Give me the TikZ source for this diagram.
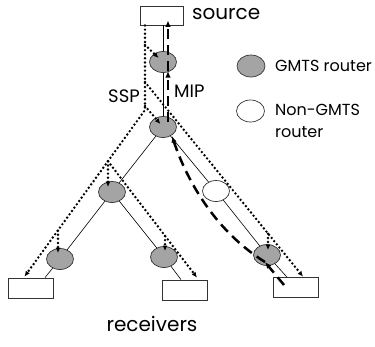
\documentclass[tikz,border=0pt]{standalone}
\usepackage{fontspec}
\setmainfont{Poppins}
\usepackage{tikz}
\usetikzlibrary{arrows.meta,calc,positioning,shapes.geometric}
\definecolor{gmtsfill}{HTML}{A4A4A4}
\definecolor{gmtsline}{HTML}{333333}
\tikzset{%
  gmbox/.style={%
    draw=gmtsline,
    fill=white,
    line width=0.8pt,
    minimum width=45pt,
    minimum height=20pt,
    inner sep=0pt
  },
  gmrouter/.style={%
    ellipse,
    draw=gmtsline,
    fill=gmtsfill,
    line width=0.7pt,
    minimum width=27pt,
    minimum height=21pt,
    inner sep=0pt
  },
  gmplain/.style={gmrouter,fill=white},
  gmlabel/.style={inner sep=0pt,font=\fontsize{#1}{22}\selectfont},
  gmlabel/.default=17,
  gmlink/.style={draw=black,line width=0.6pt},
  gmssp/.style={-{Latex[length=5.5pt,width=5pt]},line width=2.7pt,dash pattern=on 0pt off 4.1pt,line cap=round},
  gmmip/.style={-{Latex[length=6.5pt,width=5.5pt]},line width=2.5pt,dash pattern=on 10pt off 6pt}
}
\begin{document}
\begin{tikzpicture}[x=1pt,y=-1pt]
    \useasboundingbox (0,0) rectangle (375,346);
    \node[gmbox,minimum width=43pt,minimum height=19pt] (source) at (161.5,15.5) {};
    \node[gmrouter] (r1) at (163,62) {};
    \node[gmrouter] (r2) at (163,127) {};
    \node[gmrouter] (r3) at (112,192) {};
    \node[gmplain] (nongmts) at (216,191) {};
    \node[gmrouter] (r4) at (60,259) {};
    \node[gmrouter] (r5) at (164,257) {};
    \node[gmrouter] (r6) at (267,255) {};
    \node[gmbox] (leftrx) at (30.5,288) {};
    \node[gmbox] (midrx) at (185,290) {};
    \node[gmbox] (rightrx) at (296,287.5) {};

    \node[gmlabel=20,anchor=base west] (sourcetext) at (192,19) {source};
    \node[gmlabel=18,anchor=base west] (ssptext) at (108,102) {SSP};
    \node[gmlabel=18,anchor=base west] (miptext) at (174,97) {MIP};
    \node[gmlabel=20,anchor=base] (rxtext) at (152,331) {receivers};

    \node[gmrouter,minimum width=28pt,minimum height=22pt] (keygmts) at (251,66) {};
    \node[gmlabel=16,anchor=base west] (keygmtstext) at (275,71) {GMTS router};
    \node[gmplain,minimum width=28pt,minimum height=22pt] (keyplain) at (250.5,111) {};
    \node[gmlabel=16,anchor=base west,align=left] (keyplaintext) at (275,137) {Non-GMTS\\router};

    \draw[gmlink] (r1 |- source.south) -- (r1);
    \draw[gmlink] (r1) -- (r2);
    \draw[gmlink] (r2) -- (r3);
    \draw[gmlink] (r2) -- (nongmts);
    \draw[gmlink] (r3) -- (r4);
    \draw[gmlink] (r3) -- (r5);
    \draw[gmlink] (nongmts) -- (r6);
    \draw[gmlink] (r4) -- ([xshift=14.5pt]leftrx.north);
    \draw[gmlink] (r5) -- ([xshift=-4pt]midrx.north);
    \draw[gmlink] (r6) -- ([xshift=-9pt]rightrx.north);

    \coordinate (trunktop) at (145,25.5);
    \coordinate (trunkr1) at (145,45);
    \coordinate (trunkright) at (145,82);
    \coordinate (trunkr2) at (145,106);
    \coordinate (trunkbot) at (145,110);
    \coordinate (leftsplit) at (108,161.3);
    \coordinate (leftr4) at (58,230.6);
    \coordinate (midr5) at (165,236);
    \coordinate (rightr6) at (268,233.8);
    \draw[gmssp] (trunktop) -- (trunkbot) -- ($(leftrx.north)+(-6,-1)$);
    \draw[gmssp,shorten >=6pt] (trunkr1) -- (r1.center);
    \draw[gmssp,shorten >=4pt] (trunkr2) -- (r2.center);
    \draw[gmssp] (trunkright) -- ($(rightrx.north)+(7,-0.5)$);
    \draw[gmssp] (leftsplit) -- ($(midrx.north)+(12,-2)$);
    \draw[gmssp,shorten >=5pt] (leftsplit) -- (leftsplit |- r3);
    \draw[gmssp,shorten >=6pt] (leftr4) -- (leftr4 |- r4);
    \draw[gmssp,shorten >=6pt] (midr5) -- (midr5 |- r5);
    \draw[gmssp,shorten >=5pt] (rightr6) -- (rightr6 |- r6);

    \coordinate (mipstart) at (284,285);
    \coordinate (mipr6) at ($(r6)+(-2,7)$);
    \coordinate (mipr2) at ($(r2)+(9,9)$);
    \draw[gmmip] (mipstart) -- (mipr6);
    \draw[gmmip] (mipr6) .. controls (212,229) and (185,175) .. (mipr2);
    \draw[gmmip] ($(r2)+(5,-5)$) -- ($(r1)+(5,9)$);
    \draw[gmmip] ($(r1)+(5,9)$) -- ($(source.south)+(6.5,-5)$);
\end{tikzpicture}
\end{document}
